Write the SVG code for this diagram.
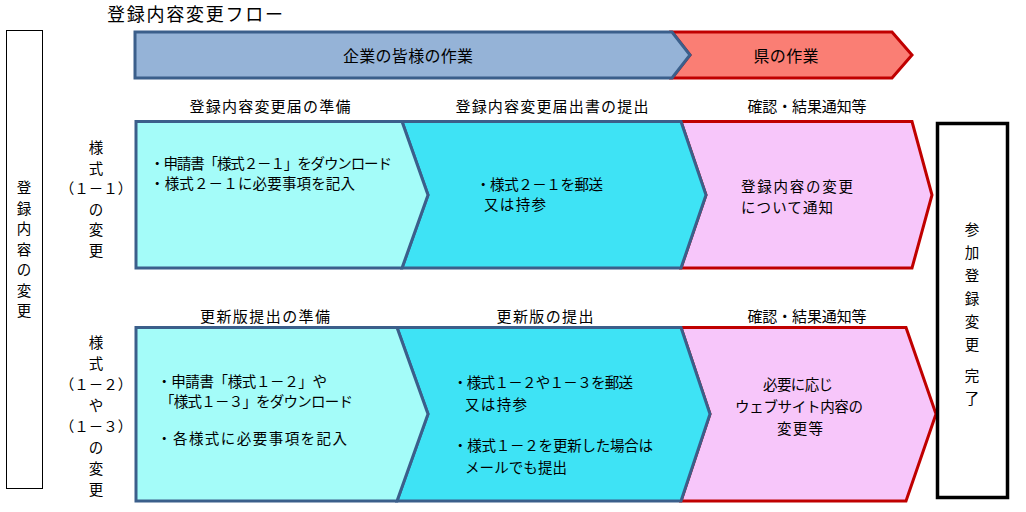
<svg xmlns="http://www.w3.org/2000/svg" width="1026" height="512" viewBox="0 0 1026 512">
<style>
text{font-family:"Noto Sans CJK JP","Noto Sans CJK SC",sans-serif;fill:#000;dominant-baseline:central}
.b{font-size:14.5px}
.h{font-size:15px}
.v{font-size:14.5px;text-anchor:middle}
.c{text-anchor:middle}
.blue{stroke:#3B5F8B;stroke-width:3;stroke-linejoin:miter}
.red{stroke:#C00000;stroke-width:3;stroke-linejoin:miter}
.lc{fill:#A4FCF9}
.dc{fill:#3EE3F5}
.pk{fill:#F7C6FA}
</style>
<rect width="1026" height="512" fill="#fff"/>
<g id="title"><text x="107" y="13" style="font-size:18px" textLength="176">登録内容変更フロー</text></g>
<g id="left-box">
<rect x="6.5" y="30.5" width="36" height="458" fill="#fff" stroke="#000" stroke-width="1"/>
<text class="v" x="24"><tspan x="24" y="186">登</tspan><tspan x="24" y="206.5">録</tspan><tspan x="24" y="227">内</tspan><tspan x="24" y="247.5">容</tspan><tspan x="24" y="268">の</tspan><tspan x="24" y="288.5">変</tspan><tspan x="24" y="309">更</tspan></text>
</g>
<g id="header-pref">
<polygon points="672,32 892,32 912,55 892,78 672,78 690,55" fill="#FA7E74" class="red"/>
<text x="786" y="55" class="c" style="font-size:16px" textLength="65">県の作業</text>
</g>
<g id="header-company">
<polygon points="135,32 672,32 690,55 672,78 135,78" fill="#95B3D7" class="blue"/>
<text x="408" y="55" class="c" style="font-size:16px" textLength="130">企業の皆様の作業</text>
</g>
<g id="row1-label">
<text class="v"><tspan x="96" y="146">様</tspan><tspan x="96" y="166.5">式</tspan><tspan x="96" y="187">（１－１）</tspan><tspan x="96" y="207.5">の</tspan><tspan x="96" y="228">変</tspan><tspan x="96" y="248.5">更</tspan></text>
</g>
<g id="row1-step3">
<text x="807" y="105" class="h c" textLength="119">確認・結果通知等</text>
<polygon points="681,121.5 912,121.5 932,195 912,268 681,268 706,195" class="pk red"/>
<text class="b" x="741" y="185" textLength="112">登録内容の変更</text>
<text class="b" x="741" y="206" textLength="92">について通知</text>
</g>
<g id="row1-step2">
<text x="552" y="105" class="h c" textLength="193">登録内容変更届出書の提出</text>
<polygon points="402,121.5 681,121.5 706,195 681,268 402,268 428,195" class="dc blue"/>
<text class="b" x="476" y="183" textLength="127">・様式２－１を郵送</text>
<text class="b" x="484" y="203" textLength="62">又は持参</text>
</g>
<g id="row1-step1">
<text x="270" y="105" class="h c" textLength="161">登録内容変更届の準備</text>
<polygon points="136,121.5 402,121.5 428,195 402,268 136,268" class="lc blue"/>
<text class="b" x="150" y="162" textLength="242">・申請書「様式２－１」をダウンロード</text>
<text class="b" x="150" y="182" textLength="205">・様式２－１に必要事項を記入</text>
</g>
<g id="row2-label">
<text class="v"><tspan x="96" y="341">様</tspan><tspan x="96" y="362">式</tspan><tspan x="96" y="383">（１－２）</tspan><tspan x="96" y="404">や</tspan><tspan x="96" y="425">（１－３）</tspan><tspan x="96" y="446">の</tspan><tspan x="96" y="467">変</tspan><tspan x="96" y="488">更</tspan></text>
</g>
<g id="row2-step3">
<text x="807" y="315" class="h c" textLength="119">確認・結果通知等</text>
<polygon points="681,327.5 906,327.5 936,414 906,501 681,501 710,414" class="pk red"/>
<text class="b c" x="798" y="383" textLength="70">必要に応じ</text>
<text class="b c" x="799" y="405" textLength="128">ウェブサイト内容の</text>
<text class="b c" x="800" y="427" textLength="46">変更等</text>
</g>
<g id="row2-step2">
<text x="545" y="315" class="h c" textLength="97">更新版の提出</text>
<polygon points="397,327.5 681,327.5 710,414 681,501 397,501 428,414" class="dc blue"/>
<text class="b" x="453" y="381" textLength="180">・様式１－２や１－３を郵送</text>
<text class="b" x="465" y="403" textLength="62">又は持参</text>
<text class="b" x="453" y="444" textLength="200">・様式１－２を更新した場合は</text>
<text class="b" x="465" y="466" textLength="102">メールでも提出</text>
</g>
<g id="row2-step1">
<text x="265" y="315" class="h c" textLength="130">更新版提出の準備</text>
<polygon points="136,327.5 397,327.5 428,414 397,501 136,501" class="lc blue"/>
<text class="b" x="157" y="380" textLength="170">・申請書「様式１－２」や</text>
<text class="b" x="160" y="400" textLength="193">「様式１－３」をダウンロード</text>
<text class="b" x="157" y="437" textLength="190">・各様式に必要事項を記入</text>
</g>
<g id="right-box">
<rect x="937.5" y="123.5" width="70" height="374" fill="#fff" stroke="#000" stroke-width="3.5"/>
<text class="v"><tspan x="972" y="228">参</tspan><tspan x="972" y="251">加</tspan><tspan x="972" y="274">登</tspan><tspan x="972" y="297">録</tspan><tspan x="972" y="320">変</tspan><tspan x="972" y="343">更</tspan><tspan x="972" y="374">完</tspan><tspan x="972" y="397">了</tspan></text>
</g>
<g id="connectors"/>
</svg>
